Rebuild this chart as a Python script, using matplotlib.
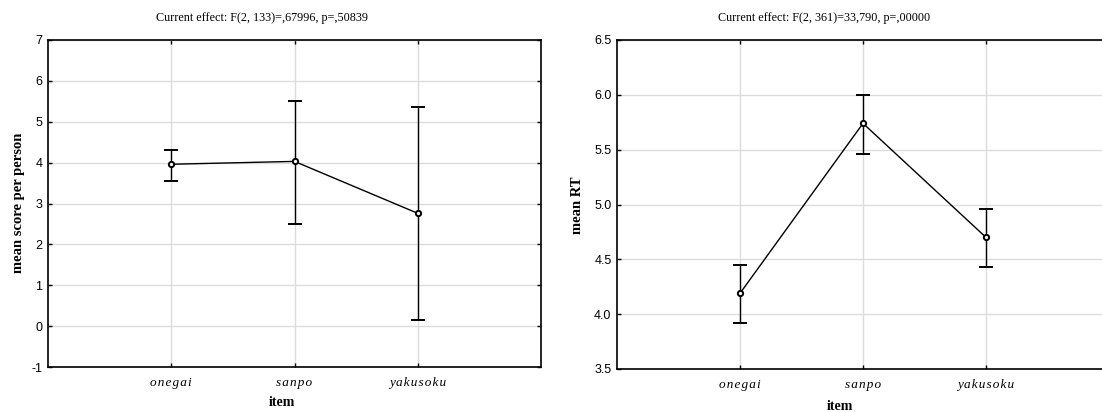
import matplotlib
matplotlib.use("Agg")
from matplotlib import pyplot as plt

# data
items = ["onegai", "sanpo", "yakusoku"]

score_mean = [3.96, 4.03, 2.76]
score_upper = [4.32, 5.50, 5.35]
score_lower = [3.56, 2.50, 0.16]

rt_mean = [4.19, 5.74, 4.70]
rt_upper = [4.45, 6.00, 4.96]
rt_lower = [3.92, 5.46, 4.43]

titles = [
    "Current effect: F(2, 133)=,67996, p=,50839",
    "Current effect: F(2, 361)=33,790, p=,00000",
]
ylabels = ["mean score per person", "mean RT"]

W, H = 1102, 412
fig = plt.figure(figsize=(W / 100, H / 100), dpi=100)

serif = ["Liberation Serif", "DejaVu Serif"]
sans = ["Liberation Sans", "DejaVu Sans"]


def px_box(x0, y0, x1, y1):
    return [x0 / W, 1 - y1 / H, (x1 - x0) / W, (y1 - y0) / H]


def draw_panel(ax, mean, upper, lower, ylim, yticks, yfmt, ylabel):
    x = list(range(1, len(items) + 1))
    yerr = [[m - lo for m, lo in zip(mean, lower)],
            [up - m for m, up in zip(mean, upper)]]
    ax.errorbar(x, mean, yerr=yerr, color="black", lw=1.0, elinewidth=1.0,
                capsize=5, capthick=1.0, marker="o", ms=3.8, mfc="white",
                mec="black", mew=1.4, zorder=3)
    ax.set_xlim(0, 4)
    ax.set_ylim(*ylim)
    ax.set_yticks(yticks)
    ax.set_yticklabels([yfmt.format(v) for v in yticks], family=sans, fontsize=9)
    ax.set_xticks(x)
    ax.set_xticklabels(["\u200a".join(s) for s in items], family=serif,
                       style="italic", fontsize=9.5)
    ax.grid(True, color="#dcdcdc", lw=1.0, zorder=0)
    ax.tick_params(direction="in", length=3, width=1.0, top=True, right=True,
                   pad=4, colors="black")
    ax.tick_params(axis="x", pad=7)
    for s in ax.spines.values():
        s.set_linewidth(1.2)
    ax.set_xlabel("item", family=serif, fontweight="bold", fontsize=10)
    ax.set_ylabel(ylabel, family=serif, fontweight="bold", fontsize=10.5)


ax1 = fig.add_axes(px_box(48, 40, 541, 367))
draw_panel(ax1, score_mean, score_upper, score_lower, (-1, 7),
           list(range(-1, 8)), "{:d}", ylabels[0])
ax1.xaxis.set_label_coords((282 - 48) / 493, -(396 - 367) / 327)
ax1.yaxis.set_label_coords(-(48 - 25) / 493, (367 - 203) / 327)

ax2 = fig.add_axes(px_box(617, 40, 1109, 369))
draw_panel(ax2, rt_mean, rt_upper, rt_lower, (3.5, 6.5),
           [3.5, 4.0, 4.5, 5.0, 5.5, 6.0, 6.5], "{:.1f}", ylabels[1])
ax2.xaxis.set_label_coords((840 - 617) / 492, -(400 - 369) / 329)
ax2.yaxis.set_label_coords(-(617 - 584) / 492, (369 - 205) / 329)

fig.text(262 / W, 1 - 18 / H, titles[0], family=serif, fontsize=8.7,
         ha="center", va="center")
fig.text(824 / W, 1 - 18 / H, titles[1], family=serif, fontsize=8.7,
         ha="center", va="center")

fig.savefig("out.png", dpi=100)
